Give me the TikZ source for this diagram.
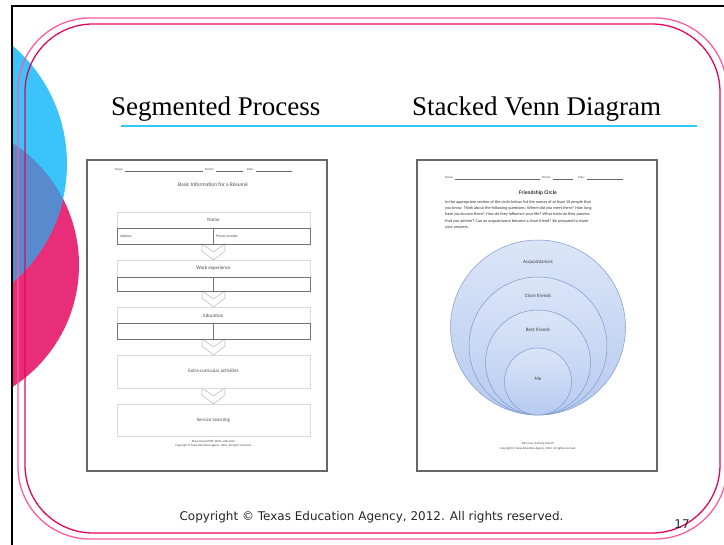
\documentclass[tikz,border=0pt]{standalone}
\usepackage{fontspec}
\setmainfont{Liberation Serif}
\newfontfamily\docfont{Carlito}
\newfontfamily\footfont{DejaVu Sans}
\usetikzlibrary{positioning}

\definecolor{slideblue}{HTML}{3AC4FA}
\definecolor{slidepink}{HTML}{E82E78}
\definecolor{slidemix}{HTML}{588ACE}
\definecolor{framepink}{HTML}{FF5C9E}
\definecolor{framedeep}{HTML}{E0085E}
\definecolor{ruleblue}{HTML}{33C8F8}
\definecolor{vennfill}{HTML}{B6CBF0}
\definecolor{vennedge}{HTML}{8098CC}

\tikzset{
  slidetitle/.style={anchor=base west, inner sep=0pt, font=\fontsize{27}{30}\selectfont},
  sheet/.style={draw=black!60, line width=1.2pt, fill=white},
  tinytext/.style={font=\docfont\fontsize{5}{6}\selectfont, text=black!70, inner sep=0pt},
  fineprint/.style={font=\docfont\fontsize{3}{3.5}\selectfont, text=black!75, inner sep=0pt},
  headbox/.style={draw=black!15, line width=0.6pt},
  rowbox/.style={draw=black!55, line width=0.8pt},
  chevron/.style={draw=black!25, line width=0.6pt, fill=white},
  ring/.style={draw=vennedge, line width=0.5pt, top color=vennfill!50, bottom color=vennfill},
}

\begin{document}
\begin{tikzpicture}[x=1pt,y=-1pt]
  \useasboundingbox (0,0) rectangle (724,545);

  % Corner circles, clipped to the slide
  \begin{scope}
    \clip (12,6) rectangle (724,545);
    \fill [slidepink] (-66,265) circle (145);
    \fill [slideblue] (-89,164) circle (156);
    \begin{scope}
      \clip (-66,265) circle (145);
      \fill [slidemix] (-89,164) circle (156);
    \end{scope}
  \end{scope}

  % Slide border
  \draw [line width=2pt] (724,6) -- (12,6) -- (12,545);

  % Double pink frame
  \draw [framepink, line width=1.3pt, rounded corners=72pt] (18,18) rectangle (727,539);
  \draw [framedeep, line width=1.3pt, rounded corners=68pt] (25,24) rectangle (720,533);

  % Headings
  \node [slidetitle] (segtitle) at (111,116) {Segmented Process};
  \node [slidetitle] (venntitle) at (412,116) {Stacked Venn Diagram};
  \draw [ruleblue, line width=1.4pt] (121,126) -- (697,126);

  % ---- Left sheet: segmented process ----
  \draw [sheet] (87,160) rectangle (327,471);
  \node [fineprint, anchor=base west] (nameA) at (115,171) {Name:};
  \draw [black!60, line width=0.3pt] (125,171) -- (203,171);
  \node [fineprint, anchor=base west] (periodA) at (205,171) {Period:};
  \draw [black!60, line width=0.3pt] (216,171) -- (243,171);
  \node [fineprint, anchor=base west] (dateA) at (247,171) {Date:};
  \draw [black!60, line width=0.3pt] (256,171) -- (292,171);
  \node [tinytext, font=\docfont\fontsize{5.5}{6}\selectfont] (resume) at (213,185) {Basic Information for a Résumé};

  % chevrons between segments
  \foreach \g in {244,291,339,388}
    \draw [chevron] (202,\g) -- (213.5,\g+8) -- (225,\g) -- (225,\g+7) -- (213.5,\g+16) -- (202,\g+7) -- cycle;

  % Name
  \draw [headbox] (117,212) rectangle (310,228);
  \node [tinytext] (nameseg) at (213.5,220) {Name};
  \draw [rowbox] (117,228) rectangle (310,244);
  \draw [rowbox] (213,228) -- (213,244);
  \node [tinytext, font=\docfont\fontsize{3.6}{4}\selectfont, anchor=west] (address) at (120,236) {Address};
  \node [tinytext, font=\docfont\fontsize{3.6}{4}\selectfont, anchor=west] (phone) at (216,236) {Phone number};

  % Work experience
  \draw [headbox] (117,260) rectangle (310,277);
  \node [tinytext] (workseg) at (213.5,268.5) {Work experience};
  \draw [rowbox] (117,277) rectangle (310,291);
  \draw [rowbox] (213,277) -- (213,291);

  % Education
  \draw [headbox] (117,307) rectangle (310,323);
  \node [tinytext] (eduseg) at (213.5,315.5) {Education};
  \draw [rowbox] (117,323) rectangle (310,339);
  \draw [rowbox] (213,323) -- (213,339);

  % Extra-curricular activities
  \draw [headbox] (117,355) rectangle (310,388);
  \node [tinytext] (extraseg) at (213.5,371) {Extra-curricular activities};

  % Service Learning
  \draw [headbox] (117,404) rectangle (310,436);
  \node [tinytext] (serviceseg) at (213.5,420) {Service Learning};

  \node [fineprint] (footA1) at (213.5,441) {Show Yourself Off: Write a Résumé!};
  \node [fineprint] (footA2) at (213.5,446) {Copyright © Texas Education Agency, 2012. All rights reserved.};

  % ---- Right sheet: stacked venn ----
  \draw [sheet] (417,160) rectangle (657,471);
  \node [fineprint, anchor=base west] (nameB) at (445,179) {Name:};
  \draw [black!60, line width=0.3pt] (455,179) -- (540,179);
  \node [fineprint, anchor=base west] (periodB) at (542,179) {Period:};
  \draw [black!60, line width=0.3pt] (553,179) -- (573,179);
  \node [fineprint, anchor=base west] (dateB) at (578,179) {Date:};
  \draw [black!60, line width=0.3pt] (587,179) -- (623,179);
  \node [tinytext, font=\docfont\bfseries\fontsize{5.5}{6}\selectfont, text=black!80] (friendship) at (538,193) {Friendship Circle};
  \node [tinytext, font=\docfont\fontsize{4.2}{6.4}\selectfont, text=black!80, anchor=north west, align=left] (prompt) at (445,200)
    {In the appropriate section of the circle below, list the names of at least 10 people that\\
     you know. Think about the following questions: Where did you meet them? How long\\
     have you known them? How do they influence your life? What traits do they possess\\
     that you admire? Can an acquaintance become a close friend? Be prepared to share\\
     your answers.};

  % rings share one bottom point
  \shade [ring] (538,327.5) circle (87.5);
  \shade [ring] (538,346) circle (69);
  \shade [ring] (538,362.5) circle (52.5);
  \shade [ring] (538,381.5) circle (33.5);
  \node [tinytext, text=black!75] (acq) at (538,262) {Acquaintances};
  \node [tinytext, text=black!75] (close) at (538,296) {Close friends};
  \node [tinytext, text=black!75] (best) at (538,330) {Best friends};
  \node [tinytext, text=black!75] (me) at (538,379) {Me};

  \node [fineprint] (footB1) at (538,444) {Who Can I Call My Friend?};
  \node [fineprint] (footB2) at (538,449) {Copyright © Texas Education Agency, 2012. All rights reserved.};

  % Footer
  \node [font=\footfont\fontsize{12}{14}\selectfont, text=black!85] (copyright) at (371.5,517)
    {Copyright © Texas Education Agency, 2012. All rights reserved.};
  \node [font=\footfont\fontsize{12}{14}\selectfont, text=black!85] (pagenum) at (682,524) {17};
\end{tikzpicture}
\end{document}
